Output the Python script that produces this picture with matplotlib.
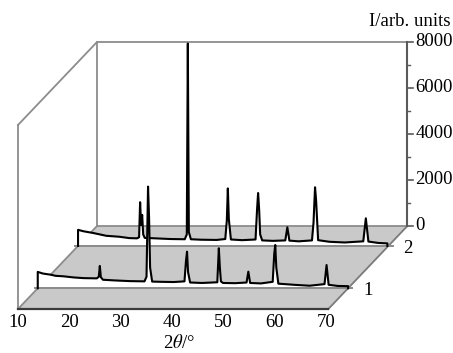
import numpy as np
import matplotlib
matplotlib.use("Agg")
import matplotlib.pyplot as plt

# XRD patterns (2theta in deg, intensity in arb. units)
tt1 = [10.0, 10.0, 11.0, 12.5, 13.5, 15.0, 17.0, 19.0, 21.5, 21.9, 22.1, 22.3, 22.7, 25.0, 28.0,
       30.8, 31.2, 31.5, 31.7, 31.9, 32.3, 34.0, 36.5, 38.6, 38.9, 39.1, 39.3, 39.7, 42.0, 45.0,
       45.3, 45.5, 45.7, 46.1, 48.5, 50.7, 51.05, 51.4, 53.5, 55.8, 56.1, 56.3, 56.5, 56.9, 60.0,
       63.0, 65.9, 66.3, 66.7, 68.5, 70.5, 70.5]
I1 = [0, 710, 640, 590, 540, 520, 470, 440, 430, 500, 970, 480, 370, 340, 310,
      300, 500, 4420, 3070, 900, 290, 280, 270, 300, 1200, 1590, 700, 250, 230, 260,
      1740, 900, 300, 230, 220, 250, 720, 230, 210, 280, 1500, 1880, 900, 200, 150,
      110, 180, 1010, 150, 100, 90, 0]

tt2 = [10.0, 10.0, 11.0, 13.0, 15.5, 18.0, 20.0, 21.5, 21.9, 22.1, 22.3, 22.5, 22.7, 23.0, 25.0,
       28.0, 30.8, 31.2, 31.4, 31.6, 32.0, 34.0, 37.0, 38.7, 39.0, 39.2, 39.4, 39.8, 42.0, 44.6,
       44.9, 45.1, 45.3, 45.5, 45.9, 48.0, 50.4, 50.8, 51.2, 53.0, 55.6, 55.9, 56.2, 56.4, 56.8,
       59.0, 62.0, 65.6, 66.1, 66.6, 68.5, 70.3, 70.3]
I2 = [0, 700, 640, 560, 440, 400, 340, 330, 380, 1900, 900, 1350, 500, 350, 330,
      300, 290, 500, 8800, 600, 290, 270, 260, 300, 1100, 2500, 1150, 280, 250, 280,
      1600, 2300, 1600, 500, 240, 220, 240, 810, 230, 200, 240, 1000, 2550, 2000, 250,
      180, 150, 200, 1200, 190, 130, 110, 0]

patterns = [("2", tt2, I2, 0.76), ("1", tt1, I1, 0.25)]  # back to front

x_ticks = [10, 20, 30, 40, 50, 60, 70]
y_ticks = [0, 2000, 4000, 6000, 8000]
y_minor = [1000, 3000, 5000, 7000]

# oblique projection (front plane units)
PX_DEG = 5.13
PX_I = 0.023
DX = 79 / PX_DEG
DY = 83 / PX_I
XMIN, XMAX, ITOP = 10.0, 70.5, 8000


def proj(tt, inten, d):
    return np.asarray(tt, float) + d * DX, np.asarray(inten, float) + d * DY


plt.rcParams['font.family'] = 'Liberation Serif'
plt.rcParams['mathtext.fontset'] = 'stix'
plt.rcParams['font.size'] = 13.5

fig = plt.figure(figsize=(4.53, 3.53), dpi=100)
ax = fig.add_axes([0, 0, 1, 1])
ax.set_xlim(10 - 18 / PX_DEG, 10 + (453 - 18) / PX_DEG)
ax.set_ylim(-(353 - 309) / PX_I, 309 / PX_I)
ax.axis('off')

edge = '#8c8c8c'

# floor
fx, fy = proj([XMIN, XMAX, XMAX, XMIN], [0, 0, 0, 0], 0)
bx, by = proj([XMAX, XMIN], [0, 0], 1)
ax.fill(np.r_[fx[:2], bx], np.r_[fy[:2], by], color='#c9c9c9', lw=0, zorder=1)

# back wall and left wall edges
x, y = proj([XMIN, XMIN, XMAX], [0, ITOP, ITOP], 1)
ax.plot(x, y, color=edge, lw=1.3, zorder=2)
x, y = proj([XMIN, XMAX], [0, 0], 1)
ax.plot(x, y, color=edge, lw=1.3, zorder=2)
x, y = proj([XMIN, XMIN], [0, ITOP], 0)
ax.plot(x, y, color=edge, lw=1.3, zorder=2)
x0, y0 = proj(XMIN, ITOP, 0)
x1, y1 = proj(XMIN, ITOP, 1)
ax.plot([x0, x1], [y0, y1], color=edge, lw=1.3, zorder=2)
x0, y0 = proj(XMIN, 0, 0)
x1, y1 = proj(XMIN, 0, 1)
ax.plot([x0, x1], [y0, y1], color=edge, lw=1.3, zorder=2)
x0, y0 = proj(XMAX, 0, 0)
x1, y1 = proj(XMAX, 0, 1)
ax.plot([x0, x1], [y0, y1], color='#7a7a7a', lw=1.3, zorder=2)

# front edge
x, y = proj([XMIN, XMAX], [0, 0], 0)
ax.plot(x, y, color='#3a3a3a', lw=1.6, zorder=6)

# patterns
z = 3
for name, tt, inten, d in patterns:
    px, py = proj(tt, inten, d)
    base = d * DY
    ax.fill_between(px, base, py, color='white', lw=0, zorder=z)
    lx, ly = proj([9.4, 71.3], [0, 0], d)
    ax.plot(lx, ly, color='#8a8a8a', lw=1.4, zorder=z + 0.1)
    ax.plot(px, py, color='black', lw=1.5, zorder=z + 0.2)
    tx, ty = proj(74.3, -110, d)
    ax.text(tx, ty, name, ha='center', va='center', zorder=z + 0.3)
    z += 1

# right intensity axis on back wall
x, y = proj([XMAX, XMAX], [0, ITOP], 1)
ax.plot(x, y, color='#5a5a5a', lw=1.5, zorder=2.5)
for v in y_ticks:
    x0, y0 = proj(XMAX, v, 1)
    ax.plot([x0, x0 + 1.15], [y0, y0], color='#5a5a5a', lw=1.2, zorder=2.5)
    ax.text(x0 + 1.55, y0, str(v), ha='left', va='center')
for v in y_minor:
    x0, y0 = proj(XMAX, v, 1)
    ax.plot([x0, x0 + 0.6], [y0, y0], color='#5a5a5a', lw=1.0, zorder=2.5)

# front x labels
for v in x_ticks:
    ax.text(v, -230, str(v), ha='center', va='top')

ax.text(41.4, -1478, '2$\\theta$/°', ha='center', va='center')
ax.text(94.4, 287 / PX_I, 'I/arb. units', ha='right', va='center')

fig.savefig('out.png', dpi=100)
